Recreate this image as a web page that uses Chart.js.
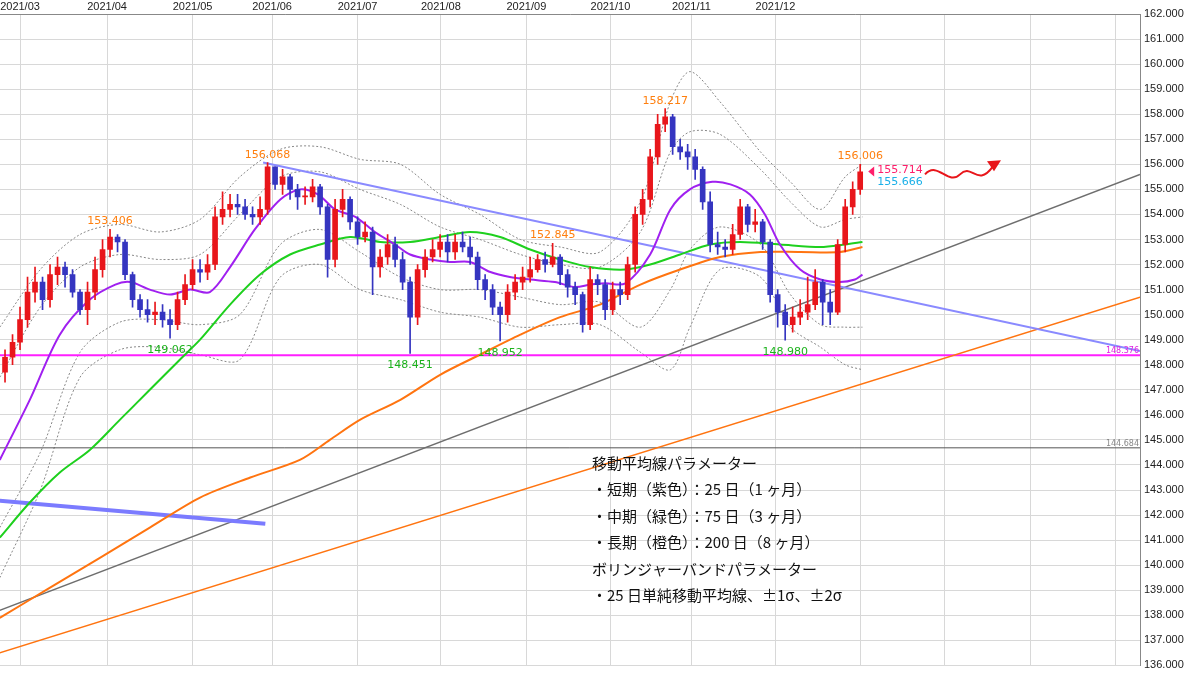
<!DOCTYPE html>
<html>
<head>
<meta charset="utf-8">
<script src="https://cdn.jsdelivr.net/npm/chart.js@4.4.1/dist/chart.umd.min.js"></script>
<style>
  html, body { margin: 0; padding: 0; background: #fff; }
  #wrap { width: 1200px; height: 676px; }
</style>
</head>
<body>
<div id="wrap"><canvas id="grafico"></canvas></div>
<script>
// velas (cada vela ~ 2 sesiones)
const aperturas = [147.7,148.3,148.9,149.8,150.9,151.3,150.6,151.6,151.9,151.6,
150.9,150.2,150.9,151.8,152.6,153.1,152.9,151.6,150.6,150.2,
150.0,150.1,149.8,149.6,150.6,151.2,151.8,151.7,152.0,153.9,
154.2,154.4,154.3,154.0,153.9,154.2,155.9,155.2,155.5,155.0,
154.7,154.7,155.1,154.3,152.2,154.2,154.6,153.7,153.1,153.3,
151.9,152.3,152.8,152.2,151.3,149.9,151.8,152.3,152.6,152.9,
152.5,152.9,152.7,152.3,151.4,151.0,150.3,150.0,150.9,151.3,
151.5,151.8,152.2,152.0,152.3,151.6,151.1,150.8,149.6,151.4,
151.2,150.2,151.0,150.8,152.0,154.0,154.6,156.3,157.6,157.9,
156.7,156.5,156.3,155.8,154.5,152.8,152.7,152.6,153.2,154.3,
153.6,153.7,152.9,150.8,150.1,149.6,149.9,150.1,150.4,151.3,
150.5,150.1,152.8,154.3,155.0];
const maximos = [148.6,149.2,150.3,151.5,151.9,151.5,152.0,152.3,152.1,151.8,
151.0,151.3,152.3,153.0,153.41,153.2,153.0,151.7,150.8,150.6,
150.5,150.4,150.2,150.9,151.6,152.2,152.2,152.4,154.3,154.9,
154.8,154.8,154.6,154.3,154.7,156.07,155.9,155.8,155.6,155.2,
155.1,155.4,155.2,154.4,154.6,155.0,154.7,153.9,153.7,153.5,
152.6,153.2,153.1,152.5,151.5,152.0,152.6,153.0,153.2,153.2,
153.2,153.3,153.1,152.5,151.6,151.2,150.5,151.2,151.6,151.9,
152.3,152.4,152.5,152.85,152.4,151.8,151.3,150.9,151.9,151.6,
151.4,151.3,151.3,152.3,154.3,155.0,156.6,158.0,158.22,158.0,
157.0,156.8,156.6,155.9,154.9,153.3,153.0,153.6,154.6,154.4,
154.2,153.8,153.0,151.0,150.4,150.3,150.6,151.5,151.8,151.4,
151.0,153.0,154.6,155.3,156.0];
const minimos = [147.3,148.0,148.6,149.5,150.5,150.2,150.3,151.2,151.1,150.7,
150.0,149.6,150.6,151.5,152.3,152.5,151.4,150.3,149.9,149.7,
149.6,149.5,149.06,149.4,150.4,151.0,151.3,151.4,151.8,153.6,
153.9,154.0,153.8,153.6,153.6,154.0,155.0,154.8,154.6,154.2,
154.4,154.5,154.0,151.5,151.9,153.9,153.4,152.8,152.9,150.8,
151.5,152.0,151.9,151.0,148.45,149.6,151.5,152.1,152.3,152.1,
152.2,152.5,152.0,151.0,150.6,150.0,148.95,149.7,150.6,151.0,
151.3,151.7,151.7,151.9,151.2,150.7,150.4,149.3,149.4,150.8,
149.8,150.0,150.4,150.6,151.7,153.6,154.3,156.0,157.3,156.4,
156.2,155.8,155.4,154.2,152.5,152.4,152.3,152.4,153.0,153.3,
153.3,152.6,150.5,149.5,148.98,149.3,149.6,149.8,150.2,149.6,
149.6,150.0,152.5,154.0,154.8];
const cierres = [148.3,148.9,149.8,150.9,151.3,150.6,151.6,151.9,151.6,150.9,
150.2,150.9,151.8,152.6,153.1,152.9,151.6,150.6,150.2,150.0,
150.1,149.8,149.6,150.6,151.2,151.8,151.7,152.0,153.9,154.2,
154.4,154.3,154.0,153.9,154.2,155.9,155.2,155.5,155.0,154.7,
154.7,155.1,154.3,152.2,154.2,154.6,153.7,153.1,153.3,151.9,
152.3,152.8,152.2,151.3,149.9,151.8,152.3,152.6,152.9,152.5,
152.9,152.7,152.3,151.4,151.0,150.3,150.0,150.9,151.3,151.5,
151.8,152.2,152.0,152.3,151.6,151.1,150.8,149.6,151.4,151.2,
150.2,151.0,150.8,152.0,154.0,154.6,156.3,157.6,157.9,156.7,
156.5,156.3,155.8,154.5,152.8,152.7,152.6,153.2,154.3,153.6,
153.7,152.9,150.8,150.1,149.6,149.9,150.1,150.4,151.3,150.5,
150.1,152.8,154.3,155.0,155.7];

// medias móviles (x = índice de vela)
const ma25X = [-0.7,3.3,7.3,11.3,14.7,16.7,19.3,22,24.7,27.3,30,33.3,36.7,39.3,41.7,44,46.7,49.3,52,54,56.7,59.3,62,64.7,67.3,70,73.3,76,78,80,82.7,86,88.7,91.3,94.3,96.7,99.3,101.3,103.3,106,108.7,111.3,113.3,114.3];
const ma25Y = [144.2,146.6,149.2,150.6,151.2,151.3,151.0,150.8,151.0,150.9,151.9,153.4,154.6,155.0,154.8,154.2,153.9,153.3,152.8,152.4,152.2,152.1,152.1,151.7,151.5,151.4,151.3,151.1,151.2,151.25,151.25,152.4,154.2,155.0,155.3,155.2,154.8,154.0,152.8,151.8,151.4,151.3,151.4,151.6];
const ma75X = [-0.7,3.3,7.3,11.3,15.3,19.3,23.3,26,30,34,38,42,46,50,54,58,62,66,70,74,78,82.7,86,90,94,98,103.3,108.7,112,114.3];
const ma75Y = [141.1,142.5,143.7,144.6,145.8,147.0,148.2,149.0,150.4,151.6,152.4,152.8,153.1,152.9,152.9,153.1,153.3,153.1,152.6,152.2,151.9,151.8,152.0,152.4,152.8,152.9,152.8,152.7,152.8,152.9];
const ma200X = [-0.7,6,12.7,19.3,26,32.7,39.3,43.3,47.3,52.7,58,63.3,68.7,74,79.3,84.7,90,95.3,100.7,106,111.3,114.3];
const ma200Y = [137.9,139.1,140.3,141.5,142.7,143.5,144.2,145.0,145.8,146.6,147.6,148.4,149.2,149.9,150.4,151.2,151.8,152.3,152.5,152.5,152.5,152.7];

// bandas de Bollinger
const bbX = [-0.7,4.7,10,15.3,20.7,26,31.3,36.7,42,47.3,52.7,58,63.3,68.7,74,79.3,84.7,88.7,91.3,95.3,100.7,104.7,108.7,112,114.3];
const bbSup2 = [149.5,151.8,153.2,153.6,153.3,153.8,155.5,156.6,156.7,156.2,156.0,154.8,154.0,153.0,152.7,152.5,154.5,158.5,159.7,158.5,156.5,155.3,154.2,155.5,156.0];
const bbSup1 = [147.5,150.3,151.9,152.4,152.2,152.4,154.0,155.5,155.7,155.0,154.4,153.5,153.0,152.4,152.0,151.9,153.3,156.5,157.3,157.2,155.8,154.5,153.5,153.8,153.9];
const bbInf1 = [141.5,144.5,148.5,149.7,149.8,149.6,150.0,152.8,153.4,152.5,151.5,151.0,151.0,150.7,150.4,150.5,149.5,151.0,152.6,153.5,152.8,150.8,149.6,149.5,149.5];
const bbInf2 = [139.5,143.0,147.5,148.6,148.7,148.4,148.2,151.5,152.0,151.0,150.6,150.1,149.9,149.5,149.6,149.6,148.5,147.8,149.5,151.8,151.5,149.5,148.7,148.0,147.8];

// líneas de tendencia
const lineaAzulX = [34.4, 151.3], lineaAzulY = [156.07, 148.55];
const lineaAzulGruesaX = [-0.7, 34.7], lineaAzulGruesaY = [142.57, 141.65];
const lineaGrisX = [-0.7, 151.3], lineaGrisY = [138.2, 155.6];
const lineaNaranjaX = [-0.7, 151.3], lineaNaranjaY = [136.5, 150.7];
const nivelMagenta = 148.376, nivelGris = 144.684;

// eje x
const mesesX = [2, 13.6, 25, 35.6, 47, 58.1, 69.5, 80.7, 91.5, 102.7, 114, 125.3, 136.7, 148];
const mesesTxt = ['2021/03','2021/04','2021/05','2021/06','2021/07','2021/08','2021/09','2021/10','2021/11','2021/12','','','',''];

const etiquetasNaranja = [[14, 153.406, '153.406'], [35, 156.068, '156.068'], [88, 158.217, '158.217'], [73, 152.845, '152.845'], [114, 156.006, '156.006']];
const etiquetasVerdes = [[22, 149.062, '149.062'], [54, 148.451, '148.451'], [66, 148.952, '148.952'], [104, 148.980, '148.980']];

const textoCaja = ['移動平均線パラメーター', '・短期（紫色）：25 日（1 ヶ月）', '・中期（緑色）：75 日（3 ヶ月）', '・長期（橙色）：200 日（8 ヶ月）', 'ボリンジャーバンドパラメーター', '・25 日単純移動平均線、±1σ、±2σ'];

const ARRIBA = '#e8161b', ABAJO = '#3535c0';
const pares = (xs, ys) => xs.map((x, i) => ({ x, y: ys[i] }));
const colores = cierres.map((c, i) => c >= aperturas[i] ? ARRIBA : ABAJO);

const linea = (data, color, ancho, orden, extra = {}) => Object.assign({
  type: 'line', data, borderColor: color, borderWidth: ancho, pointRadius: 0,
  tension: 0.3, fill: false, order: orden
}, extra);

const anotaciones = {
  id: 'anotaciones',
  afterDatasetsDraw(chart) {
    const { ctx, scales: { x, y }, chartArea } = chart;
    ctx.save();
    ctx.font = '11px "DejaVu Sans", sans-serif';
    ctx.textAlign = 'center';
    ctx.fillStyle = '#ff7f0e';
    etiquetasNaranja.forEach(([i, v, t]) => ctx.fillText(t, x.getPixelForValue(i), y.getPixelForValue(v) - 5));
    ctx.fillStyle = '#1db31d';
    etiquetasVerdes.forEach(([i, v, t]) => ctx.fillText(t, x.getPixelForValue(i), y.getPixelForValue(v) + 15));
    // precio actual
    const px = x.getPixelForValue(114) + 8;
    ctx.fillStyle = '#ff1f6b';
    ctx.beginPath();
    ctx.moveTo(px, y.getPixelForValue(155.714));
    ctx.lineTo(px + 6, y.getPixelForValue(155.714) - 5);
    ctx.lineTo(px + 6, y.getPixelForValue(155.714) + 5);
    ctx.fill();
    ctx.textAlign = 'left';
    ctx.fillText('155.714', px + 9, y.getPixelForValue(155.714) + 2);
    ctx.fillStyle = '#1ab0e8';
    ctx.fillText('155.666', px + 9, y.getPixelForValue(155.666) + 12);
    // etiquetas de niveles
    ctx.font = '8px "DejaVu Sans", sans-serif';
    ctx.textAlign = 'right';
    ctx.fillStyle = '#e020e0';
    ctx.fillText(nivelMagenta.toFixed(3), chartArea.right - 1, y.getPixelForValue(nivelMagenta) - 2);
    ctx.fillStyle = '#888';
    ctx.fillText(nivelGris.toFixed(3), chartArea.right - 1, y.getPixelForValue(nivelGris) - 2);
    // flecha ondulada
    ctx.strokeStyle = '#e8161b';
    ctx.lineWidth = 2;
    const ay = y.getPixelForValue(155.6);
    ctx.beginPath();
    ctx.moveTo(925, ay);
    ctx.bezierCurveTo(938, ay - 14, 948, ay + 12, 960, ay);
    ctx.bezierCurveTo(972, ay - 12, 977, ay + 14, 993, ay - 8);
    ctx.stroke();
    ctx.beginPath();
    ctx.moveTo(1001, ay - 14);
    ctx.lineTo(987, ay - 13);
    ctx.lineTo(994, ay - 3);
    ctx.closePath();
    ctx.fillStyle = '#e8161b';
    ctx.fill();
    // cuadro de texto
    ctx.fillStyle = '#111';
    ctx.font = '15px "Noto Sans CJK JP", sans-serif';
    ctx.textAlign = 'left';
    textoCaja.forEach((t, k) => ctx.fillText(t, 592, 469 + k * 26.4));
    ctx.restore();
  }
};

new Chart(document.getElementById('grafico'), {
  data: {
    datasets: [
      { type: 'bar', data: cierres.map((c, i) => ({ x: i, y: [minimos[i], maximos[i]] })), backgroundColor: colores, barThickness: 1, grouped: false, order: 2 },
      { type: 'bar', data: cierres.map((c, i) => ({ x: i, y: [Math.min(aperturas[i], c), Math.max(aperturas[i], c)] })), backgroundColor: colores, barThickness: 5, minBarLength: 1, grouped: false, order: 1 },
      linea(pares(ma25X, ma25Y), '#a020f0', 2, 5),
      linea(pares(ma75X, ma75Y), '#1ed01e', 2, 5),
      linea(pares(ma200X, ma200Y), '#ff7410', 2, 5),
      linea(pares(bbX, bbSup2), '#888', 1, 8, { borderDash: [2, 2] }),
      linea(pares(bbX, bbSup1), '#888', 1, 8, { borderDash: [2, 2] }),
      linea(pares(bbX, bbInf1), '#888', 1, 8, { borderDash: [2, 2] }),
      linea(pares(bbX, bbInf2), '#888', 1, 8, { borderDash: [2, 2] }),
      linea(pares(lineaAzulX, lineaAzulY), '#8a8aff', 2, 6, { tension: 0 }),
      linea(pares(lineaAzulGruesaX, lineaAzulGruesaY), '#7b7bff', 4, 6, { tension: 0 }),
      linea(pares(lineaGrisX, lineaGrisY), '#6e6e6e', 1.5, 6, { tension: 0 }),
      linea(pares(lineaNaranjaX, lineaNaranjaY), '#ff7410', 1.5, 6, { tension: 0 }),
      linea(pares([-0.7, 151.3], [nivelMagenta, nivelMagenta]), '#ff1fff', 2, 6, { tension: 0 }),
      linea(pares([-0.7, 151.3], [nivelGris, nivelGris]), '#555', 1, 6, { tension: 0 })
    ]
  },
  options: {
    responsive: true,
    maintainAspectRatio: false,
    animation: false,
    layout: { padding: { bottom: 9 } },
    plugins: { legend: { display: false }, tooltip: { enabled: false } },
    scales: {
      x: {
        type: 'linear', position: 'top', min: -0.67, max: 151.3, offset: false,
        afterBuildTicks: s => { s.ticks = mesesX.map(v => ({ value: v })); },
        afterFit: s => { s.height = 14; s.paddingLeft = 0; s.paddingRight = 0; },
        ticks: { autoSkip: false, maxRotation: 0, padding: 0, color: '#222', font: { size: 11 },
          callback: (v, k) => mesesTxt[k] },
        grid: { color: '#d8d8d8', drawTicks: false, offset: false },
        border: { color: '#888' }
      },
      y: {
        position: 'right', min: 136, max: 162,
        afterFit: s => { s.width = 60; },
        ticks: { stepSize: 1, color: '#222', font: { size: 11 }, padding: 4, callback: v => v.toFixed(3) },
        grid: { color: '#d8d8d8', drawTicks: false },
        border: { color: '#888' }
      }
    }
  },
  plugins: [anotaciones]
});
</script>
</body>
</html>
